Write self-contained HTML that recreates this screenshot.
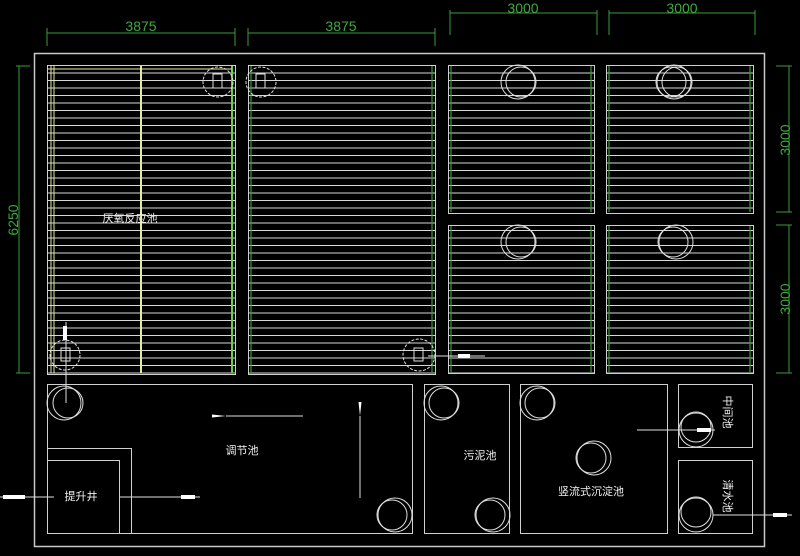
<!DOCTYPE html>
<html><head><meta charset="utf-8"><style>
html,body{margin:0;padding:0;background:#000;width:800px;height:556px;overflow:hidden}
svg text{font-family:"Liberation Sans","Noto Sans CJK SC",sans-serif}
</style></head><body>
<svg width="800" height="556" viewBox="0 0 800 556" xmlns="http://www.w3.org/2000/svg">
<defs>
<pattern id="sl" x="0" y="65" width="10" height="7.5" patternUnits="userSpaceOnUse">
<line x1="0" y1="0.5" x2="10" y2="0.5" stroke="#d8d8d8" stroke-width="1"/>
</pattern>
<marker id="ah" markerWidth="14" markerHeight="4" refX="0" refY="2" orient="auto" markerUnits="userSpaceOnUse">
<path d="M0,2 L14,0.5 L14,3.5 Z" fill="#fff"/>
</marker>
</defs>
<rect width="800" height="556" fill="#000"/>
<rect x="34.5" y="53.5" width="730" height="493" fill="none" stroke="#c8c8c8" stroke-width="1.5"/>
<g>
<rect x="47" y="65" width="188" height="309" fill="url(#sl)"/>
<rect x="248" y="65" width="187" height="309" fill="url(#sl)"/>
<rect x="448" y="65" width="146" height="148" fill="url(#sl)"/>
<rect x="606" y="65" width="147" height="148" fill="url(#sl)"/>
<rect x="448" y="225" width="146" height="148" fill="url(#sl)"/>
<rect x="606" y="225" width="147" height="148" fill="url(#sl)"/>
</g>
<g fill="none" stroke="#cfcfcf" stroke-width="1">
<rect x="47.5" y="65.5" width="188" height="309"/>
<rect x="248.5" y="65.5" width="187" height="309"/>
<rect x="448.5" y="65.5" width="146" height="148"/>
<rect x="606.5" y="65.5" width="147" height="148"/>
<rect x="448.5" y="225.5" width="146" height="148"/>
<rect x="606.5" y="225.5" width="147" height="148"/>
</g>
<g stroke="#3c9a3c" stroke-width="1.2">
<line x1="232" y1="66" x2="232" y2="373" stroke="#6ad04a" stroke-width="2"/>
<line x1="251" y1="66" x2="251" y2="373"/><line x1="432" y1="66" x2="432" y2="373"/>
<line x1="451" y1="66" x2="451" y2="212"/><line x1="591" y1="66" x2="591" y2="212"/>
<line x1="609" y1="66" x2="609" y2="212"/><line x1="750" y1="66" x2="750" y2="212"/>
<line x1="451" y1="226" x2="451" y2="372"/><line x1="591" y1="226" x2="591" y2="372"/>
<line x1="609" y1="226" x2="609" y2="372"/><line x1="750" y1="226" x2="750" y2="372"/>
</g>
<g stroke="#e8e8a0" stroke-width="1">
<line x1="51" y1="66" x2="51" y2="373"/><line x1="54" y1="66" x2="54" y2="373"/>
<line x1="141" y1="66" x2="141" y2="373" stroke-width="2"/>
<line x1="48" y1="69" x2="232" y2="69"/>
</g>
<g fill="none" stroke="#d0d0d0" stroke-width="1">
<rect x="47.5" y="384.5" width="365" height="149"/>
<rect x="47.5" y="448.5" width="84" height="85"/>
<rect x="47.5" y="460.5" width="72" height="73"/>
<rect x="424.5" y="384.5" width="85" height="149"/>
<rect x="520.5" y="384.5" width="147" height="149"/>
<rect x="678.5" y="384.5" width="74" height="63"/>
<rect x="678.5" y="460.5" width="74" height="73"/>
</g>
<g fill="none" stroke="#e0e0e0" stroke-width="1">
<circle cx="218" cy="82" r="15" stroke-dasharray="3,1.5"/>
<circle cx="261" cy="82" r="15" stroke-dasharray="3,1.5"/>
<circle cx="518" cy="82" r="17"/><circle cx="521" cy="82" r="15"/>
<circle cx="674" cy="82" r="17"/><circle cx="671" cy="82" r="15"/><circle cx="677" cy="82" r="15"/>
<circle cx="518" cy="242" r="17"/><circle cx="521" cy="242" r="15"/>
<circle cx="676" cy="242" r="17"/><circle cx="673" cy="242" r="15"/>
<circle cx="65" cy="355" r="15" stroke-dasharray="3,1.5"/>
<circle cx="419" cy="355" r="16" stroke-dasharray="3,1.5"/>
<circle cx="64" cy="403" r="17"/><circle cx="68" cy="403" r="15"/>
<circle cx="395" cy="515" r="17"/><circle cx="392" cy="515" r="15"/>
<circle cx="441" cy="403" r="17"/><circle cx="444" cy="403" r="15"/>
<circle cx="493" cy="515" r="17"/><circle cx="490" cy="515" r="15"/>
<circle cx="537" cy="403" r="17"/><circle cx="540" cy="403" r="15"/>
<circle cx="594" cy="458" r="17"/><circle cx="591" cy="458" r="15"/>
<circle cx="696" cy="430" r="17"/><circle cx="696" cy="427" r="15"/>
<circle cx="696" cy="515" r="17"/><circle cx="696" cy="512" r="15"/>
<rect x="213" y="74" width="9" height="14"/><rect x="256" y="74" width="9" height="14"/>
<rect x="61" y="348" width="9" height="13"/><rect x="414" y="348" width="9" height="13"/>
</g>
<g stroke="#e0e0e0" stroke-width="1" fill="none">
<line x1="66" y1="322" x2="66" y2="403"/>
<line x1="428" y1="356" x2="485" y2="356"/>
<line x1="303" y1="416" x2="226" y2="416" marker-end="url(#ah)"/>
<line x1="360" y1="498" x2="360" y2="416" marker-end="url(#ah)"/>
<line x1="0" y1="497" x2="54" y2="497"/>
<line x1="120" y1="497" x2="200" y2="497"/>
<line x1="637" y1="430" x2="715" y2="430"/>
<line x1="713" y1="515" x2="792" y2="515"/>
</g>
<g fill="#fff"><rect x="3" y="495" width="22" height="4"/><rect x="181" y="495" width="14" height="4"/>
<rect x="458" y="354" width="12" height="4"/><rect x="697" y="428" width="14" height="4"/><rect x="773" y="513" width="14" height="4"/>
<rect x="63" y="326" width="4" height="14"/></g>
<g stroke="#3c9a3c" stroke-width="1" fill="none">
<line x1="47" y1="33" x2="235" y2="33"/><line x1="47" y1="28" x2="47" y2="46"/><line x1="235" y1="28" x2="235" y2="46"/>
<line x1="248" y1="33" x2="435" y2="33"/><line x1="248" y1="28" x2="248" y2="46"/><line x1="435" y1="28" x2="435" y2="46"/>
<line x1="450" y1="13" x2="597" y2="13"/><line x1="450" y1="10" x2="450" y2="35"/><line x1="597" y1="10" x2="597" y2="35"/>
<line x1="609" y1="13" x2="755" y2="13"/><line x1="609" y1="10" x2="609" y2="35"/><line x1="755" y1="10" x2="755" y2="35"/>
<line x1="789" y1="66" x2="789" y2="212"/><line x1="776" y1="66" x2="792" y2="66"/><line x1="776" y1="212" x2="792" y2="212"/>
<line x1="789" y1="225" x2="789" y2="373"/><line x1="776" y1="225" x2="792" y2="225"/><line x1="776" y1="373" x2="792" y2="373"/>
<line x1="19" y1="66" x2="19" y2="373"/><line x1="16" y1="66" x2="30" y2="66"/><line x1="16" y1="373" x2="30" y2="373"/>
</g>
<g fill="#3fa83f" font-size="14" text-anchor="middle">
<text x="141" y="31">3875</text><text x="341" y="31">3875</text>
<text x="523" y="13">3000</text><text x="682" y="13">3000</text>
<text transform="translate(790,140) rotate(-90)">3000</text>
<text transform="translate(790,299) rotate(-90)">3000</text>
<text transform="translate(18,220) rotate(-90)">6250</text>
</g>
<g fill="#f0f0f0" font-size="11" text-anchor="middle">
<text x="130" y="222">厌氧反应池</text>
<text x="242" y="454">调节池</text>
<text x="81" y="500">提升井</text>
<text x="480" y="459">污泥池</text>
<text x="591" y="495">竖流式沉淀池</text>
<text transform="translate(724,412) rotate(90)">中间池</text>
<text transform="translate(724,496) rotate(90)">清水池</text>
</g>
</svg>
</body></html>
